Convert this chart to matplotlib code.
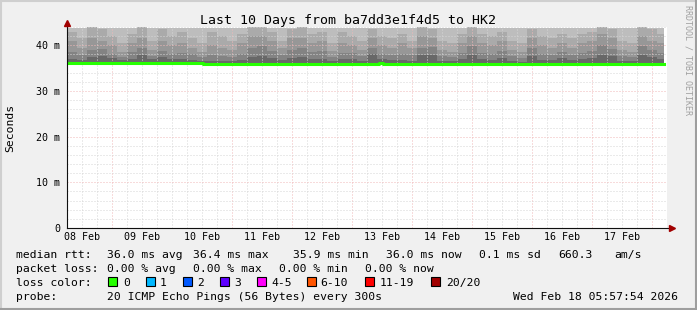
import numpy as np
import matplotlib
matplotlib.use("Agg")
import matplotlib.pyplot as plt
import matplotlib.patches as mpatches
from matplotlib.lines import Line2D

W, H = 697, 310
MONO = "DejaVu Sans Mono"

# --- data -------------------------------------------------------------
# hours since Feb 08 05:57:54 (graph start), 4 h bins
bin_hours = np.arange(60) * 4.0
smoke_end = 238.8

# upper edges (ms) of the smoke bands, outer (light) -> inner (dark)
band_top_1 = [43.8] * 60
band_top_2 = [43, 41.5, 44, 43.5, 42, 40.5, 42.5, 44, 41, 43.5,
              42, 43, 41.5, 40.5, 43, 42, 41, 42.5, 44, 44,
              43, 41, 43.5, 44, 42.5, 43, 40.5, 43, 42, 41,
              43.5, 42, 41.5, 42.5, 41, 44, 43.5, 41, 40.5, 42.5,
              44, 42.5, 42, 43, 41, 40.5, 43.5, 42, 41.5, 42.5,
              41.5, 42.5, 43, 44, 43.5, 41, 40.5, 44, 43.5, 42.5]
band_top_3 = [41, 39.5, 41.5, 41, 40, 38.5, 40.5, 41.5, 39, 41,
              40, 40.5, 39.5, 38.5, 40, 39.5, 39, 40.5, 42, 42,
              41, 39.5, 41.5, 41.5, 40.5, 41, 38.8, 40.5, 40, 39,
              41.5, 40, 39.5, 40.5, 39.5, 42, 41.5, 39, 38.5, 40.5,
              42, 40.5, 40, 41, 39, 38.5, 41.5, 40, 39.5, 40.5,
              39.5, 40.5, 41, 42.5, 41.5, 39, 38.5, 42, 41, 40.5]
band_top_4 = [38.5, 37.8, 39, 39.2, 38, 37.5, 38.6, 39.5, 37.6, 38.8,
              38, 38.4, 38.0, 37.4, 37.8, 37.6, 37.4, 38.0, 39.5, 39.8,
              38.8, 37.8, 39, 39.5, 38.5, 38.8, 37.5, 38.3, 38.2, 37.6,
              39.5, 38, 37.8, 38, 37.8, 39.5, 39.6, 37.6, 37.4, 38.2,
              39.8, 38.2, 38, 38.8, 37.6, 37.3, 39.4, 38, 37.8, 38.6,
              37.8, 38.4, 38.8, 40, 39.2, 37.6, 37.4, 39.8, 39, 38.4]
band_top_5 = [37.0, 36.8, 37.4, 37.6, 37.2, 36.8, 37.0, 37.8, 36.9, 37.5,
              36.9, 37.0, 36.8, 36.6, 36.6, 36.5, 36.5, 36.8, 37.5, 37.6,
              37.2, 36.7, 37.3, 37.5, 37, 37.1, 36.6, 36.9, 37, 36.6,
              38, 36.9, 36.7, 36.8, 36.6, 37.8, 37.8, 36.6, 36.5, 37,
              37.9, 36.9, 36.8, 37.2, 36.6, 36.4, 37.7, 36.8, 36.7, 37.3,
              36.7, 37, 37.2, 37.9, 37.6, 36.6, 36.5, 37.8, 37.4, 37.1]
band_colors = ["#bdbdbd", "#aaaaaa", "#979797", "#838383", "#686868"]

median_hours = [0, 54.4, 124.8, 126.4, smoke_end]
median_ms = [36.2, 35.9, 36.2, 35.9, 35.9]

day_labels = ["08 Feb", "09 Feb", "10 Feb", "11 Feb", "12 Feb",
              "13 Feb", "14 Feb", "15 Feb", "16 Feb", "17 Feb"]
first_midnight = 18.035   # Feb 09 00:00 in graph hours

y_ticks = [0, 10, 20, 30, 40]
y_labels = ["0", "10 m", "20 m", "30 m", "40 m"]

title = "Last 10 Days from ba7dd3e1f4d5 to HK2"
rtt_stats = ["36.0 ms avg", "36.4 ms max", "35.9 ms min", "36.0 ms now",
             "0.1 ms sd", "660.3", "am/s"]
loss_stats = ["0.00 % avg", "0.00 % max", "0.00 % min", "0.00 % now"]
loss_names = ["0", "1", "2", "3", "4-5", "6-10", "11-19", "20/20"]
loss_colors = ["#26ff00", "#00b8ff", "#0059ff", "#5e00ff", "#ff00fa",
               "#ff5500", "#ff0000", "#a10000"]
probe_text = "20 ICMP Echo Pings (56 Bytes) every 300s"
stamp = "Wed Feb 18 05:57:54 2026"

# --- figure -----------------------------------------------------------
fig = plt.figure(figsize=(W / 100, H / 100), dpi=100)
fig.patch.set_facecolor("#f0f0f0")


def fx(x):
    return x / W


def fy(y):
    return 1 - y / H


ax = fig.add_axes([fx(67), fy(228), 600 / W, 201 / H])
ax.set_facecolor("white")
ax.set_xlim(0, 240)
ax.set_ylim(0, 44)

# smoke
edges = np.append(bin_hours, smoke_end)
base = np.append(np.interp(bin_hours, median_hours, median_ms), median_ms[-1]) - 0.3
for top, col in zip([band_top_1, band_top_2, band_top_3, band_top_4, band_top_5], band_colors):
    ax.fill_between(edges, base, np.append(top, top[-1]), step="post",
                    color=col, lw=0, zorder=1)

# grid
dots = (0, (1, 2))
for h in np.arange(first_midnight - 18, 240, 6):
    major = abs((h - first_midnight) % 24) < 0.01
    ax.axvline(h, color="#f0b8b8" if major else "#d6d6d6", lw=0.72, ls=dots, zorder=2)
for v in range(2, 45, 2):
    ax.axhline(v, color="#f0b8b8" if v % 10 == 0 else "#d6d6d6", lw=0.72, ls=dots, zorder=2)

# median line
ax.plot(median_hours, median_ms, drawstyle="steps-post", color="#26ff00", lw=2.2, zorder=4)

# axes
for s in ax.spines.values():
    s.set_visible(False)
ax.plot([0, 0], [0, 44.6], color="#101010", lw=0.8, clip_on=False, zorder=5)
ax.plot([0, 241.5], [0, 0], color="#101010", lw=0.8, clip_on=False, zorder=5)
ax.plot([0], [44.9], marker="^", ms=4, color="#a10000", clip_on=False, zorder=6)
ax.plot([242], [0], marker=">", ms=4, color="#a10000", clip_on=False, zorder=6)

ax.set_xticks([first_midnight - 12 + 24 * i for i in range(len(day_labels))])
ax.set_xticklabels(day_labels)
ax.set_yticks(y_ticks)
ax.set_yticklabels(y_labels)
ax.tick_params(length=0, labelsize=7.2)
ax.tick_params(axis="x", pad=3)
ax.tick_params(axis="y", pad=5)
for lab in ax.get_xticklabels() + ax.get_yticklabels():
    lab.set_family(MONO)

# texts
fig.text(fx(348), fy(24), title, family=MONO, fontsize=9.5, ha="center", va="baseline")
fig.text(fx(10), fy(128), "Seconds", family=MONO, fontsize=8.2, rotation=90,
         ha="center", va="center")
fig.text(fx(688), fy(5), "RRDTOOL / TOBI OETIKER", family=MONO, fontsize=6,
         rotation=270, ha="center", va="top", color="#a0a0a0")

fs = 8.2
fig.text(fx(16), fy(258), "median rtt:", family=MONO, fontsize=fs, va="baseline")
for x, s in zip([107, 193, 293, 386, 479, 558, 614], rtt_stats):
    fig.text(fx(x), fy(258), s, family=MONO, fontsize=fs, va="baseline")
fig.text(fx(16), fy(272), "packet loss:", family=MONO, fontsize=fs, va="baseline")
for x, s in zip([107, 193, 279, 365], loss_stats):
    fig.text(fx(x), fy(272), s, family=MONO, fontsize=fs, va="baseline")
fig.text(fx(16), fy(286), "loss color:", family=MONO, fontsize=fs, va="baseline")
for bx, tx, name, col in zip([108, 146, 183, 220, 257, 307, 365, 431],
                             [123, 160, 197, 234, 271, 320, 380, 446],
                             loss_names, loss_colors):
    fig.add_artist(mpatches.Rectangle((fx(bx), fy(286)), 9 / W, 9 / H,
                                      transform=fig.transFigure, facecolor=col,
                                      edgecolor="black", lw=0.8))
    fig.text(fx(tx), fy(286), name, family=MONO, fontsize=fs, va="baseline")
fig.text(fx(16), fy(300), "probe:", family=MONO, fontsize=fs, va="baseline")
fig.text(fx(107), fy(300), probe_text, family=MONO, fontsize=fs, va="baseline")
fig.text(fx(513), fy(300), stamp, family=MONO, fontsize=fs, va="baseline")

# 3d frame
fig.add_artist(Line2D([0, 1], [fy(1), fy(1)], color="#cfcfcf", lw=1.5, transform=fig.transFigure))
fig.add_artist(Line2D([fx(1), fx(1)], [0, 1], color="#cfcfcf", lw=1.5, transform=fig.transFigure))
fig.add_artist(Line2D([0, 1], [fy(309), fy(309)], color="#9e9e9e", lw=1.5, transform=fig.transFigure))
fig.add_artist(Line2D([fx(696), fx(696)], [0, 1], color="#9e9e9e", lw=1.5, transform=fig.transFigure))

fig.savefig("out.png", dpi=100, facecolor=fig.get_facecolor())
